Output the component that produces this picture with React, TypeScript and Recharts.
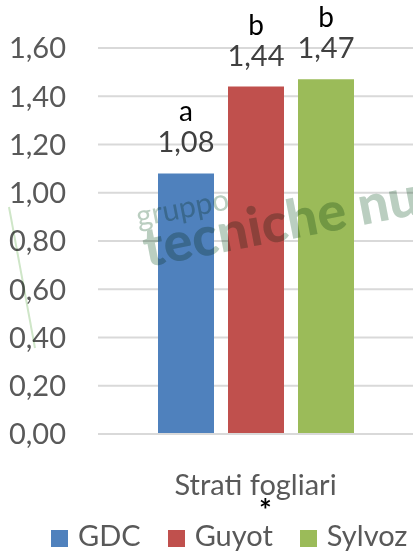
import React from "react";
import {
  BarChart,
  Bar,
  XAxis,
  YAxis,
  CartesianGrid,
  Legend,
  LabelList,
} from "recharts";

const categories = ["Strati fogliari"];
const gdcValues = [1.08];
const guyotValues = [1.44];
const sylvozValues = [1.47];
const gdcLetters = ["a"];
const guyotLetters = ["b"];
const sylvozLetters = ["b"];
const yTicks = [0, 0.2, 0.4, 0.6, 0.8, 1.0, 1.2, 1.4, 1.6];
const significance = "*";

const series = [
  { key: "gdc", name: "GDC", color: "#4F81BD", letters: gdcLetters },
  { key: "guyot", name: "Guyot", color: "#C0504D", letters: guyotLetters },
  { key: "sylvoz", name: "Sylvoz", color: "#9BBB59", letters: sylvozLetters },
];

const data = categories.map((category, i) => ({
  category,
  gdc: gdcValues[i],
  guyot: guyotValues[i],
  sylvoz: sylvozValues[i],
}));

const FONT = "Lato, 'Open Sans', sans-serif";
const fmt = (v: number) => v.toFixed(2).replace(".", ",");

// value + significance letter stacked above each bar
const makeLabel = (letters: string[]) => (props: any) => {
  const { x, y, width, value, index } = props;
  const cx = Number(x) + Number(width) / 2;
  return (
    <g>
      <text
        x={cx}
        y={Number(y) - 52}
        textAnchor="middle"
        fill="#000"
        fontSize={28}
        fontFamily={FONT}
      >
        {letters[index]}
      </text>
      <text
        x={cx}
        y={Number(y) - 21}
        textAnchor="middle"
        fill="#404040"
        fontSize={29}
        fontFamily={FONT}
      >
        {fmt(Number(value))}
      </text>
    </g>
  );
};

const CategoryTick = ({ x, y, payload }: any) => (
  <g>
    <text
      x={x}
      y={y + 53}
      textAnchor="middle"
      fill="#595959"
      fontSize={29}
      fontFamily={FONT}
    >
      {payload.value}
    </text>
    <text
      x={x + 10}
      y={y + 79}
      textAnchor="middle"
      fill="#000"
      fontSize={30}
      fontWeight={700}
      fontFamily={FONT}
    >
      {significance}
    </text>
  </g>
);

const LegendContent = () => (
  <div
    style={{
      display: "flex",
      alignItems: "flex-start",
      height: 34,
      paddingLeft: 51,
      gap: 27,
      fontFamily: FONT,
      fontSize: 29,
      color: "#595959",
    }}
  >
    {series.map((s) => (
      <div key={s.key} style={{ display: "flex", alignItems: "flex-start", gap: 10 }}>
        <div style={{ width: 17, height: 17, marginTop: 12, backgroundColor: s.color }} />
        <span style={{ lineHeight: "34px", whiteSpace: "nowrap" }}>{s.name}</span>
      </div>
    ))}
  </div>
);

export default function App() {
  return (
    <div style={{ position: "absolute", left: 0, top: 0, width: 413, height: 552, background: "#fff" }}>
      <BarChart
        width={413}
        height={552}
        data={data}
        margin={{ top: 48, right: 0, left: 0, bottom: 0 }}
        barSize={56}
        barGap={14}
      >
        <CartesianGrid vertical={false} stroke="#D9D9D9" strokeWidth={2} />
        <XAxis
          dataKey="category"
          height={84}
          axisLine={{ stroke: "#D9D9D9", strokeWidth: 2 }}
          tickLine={false}
          tick={<CategoryTick />}
        />
        <YAxis
          width={98}
          domain={[0, 1.6]}
          ticks={yTicks}
          tickFormatter={fmt}
          axisLine={false}
          tickLine={false}
          tickSize={0}
          tickMargin={32}
          tick={{ fill: "#595959", fontSize: 29, fontFamily: FONT }}
        />
        <Legend
          verticalAlign="bottom"
          height={34}
          content={<LegendContent />}
          wrapperStyle={{ left: 0, width: 413, height: 34 }}
        />
        {series.map((s) => (
          <Bar key={s.key} dataKey={s.key} name={s.name} fill={s.color} isAnimationActive={false}>
            <LabelList dataKey={s.key} content={makeLabel(s.letters)} />
          </Bar>
        ))}
      </BarChart>
      {/* watermark overlay */}
      <svg
        width={413}
        height={552}
        style={{ position: "absolute", left: 0, top: 0, pointerEvents: "none", mixBlendMode: "multiply" }}
      >
        <line x1={9} y1={207} x2={35} y2={348} stroke="#cfe6c8" strokeWidth={2} />
        <g transform="rotate(-11 147 267)" fill="#a9c2b1" opacity={0.8} fontFamily={FONT}>
          <text x={146} y={226} fontSize={30}>gruppo</text>
          <text x={147} y={267} fontSize={54} fontWeight={900}>tecniche nuove</text>
        </g>
      </svg>
    </div>
  );
}
